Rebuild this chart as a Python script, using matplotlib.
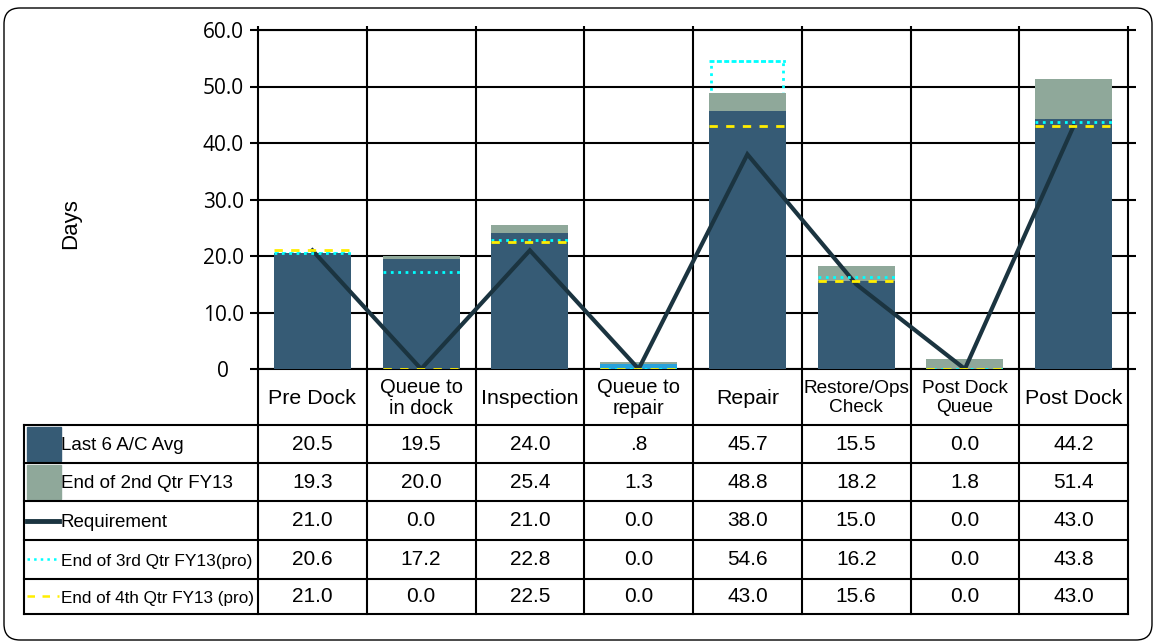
import matplotlib.pyplot as plt
import numpy as np
from matplotlib.lines import Line2D
from matplotlib.patches import Rectangle, FancyBboxPatch

plt.rcParams["font.family"] = ["Liberation Sans", "DejaVu Sans"]

categories = ["Pre Dock", "Queue to\nin dock", "Inspection", "Queue to\nrepair",
              "Repair", "Restore/Ops\nCheck", "Post Dock\nQueue", "Post Dock"]
last6 = [20.5, 19.5, 24.0, 0.8, 45.7, 15.5, 0.0, 44.2]
qtr2 = [19.3, 20.0, 25.4, 1.3, 48.8, 18.2, 1.8, 51.4]
requirement = [21.0, 0.0, 21.0, 0.0, 38.0, 15.0, 0.0, 43.0]
qtr3 = [20.6, 17.2, 22.8, 0.0, 54.6, 16.2, 0.0, 43.8]
qtr4 = [21.0, 0.0, 22.5, 0.0, 43.0, 15.6, 0.0, 43.0]
yticks = [0, 10, 20, 30, 40, 50, 60]
ytick_labels = ["0", "10.0", "20.0", "30.0", "40.0", "50.0", "60.0"]

DARK = "#365b75"
GREY = "#8fa89a"
LIGHT = "#29a3dc"
REQ = "#1b3440"
CYAN = "#00ffff"
YELLOW = "#ffee00"

W, H = 1157, 644
fig = plt.figure(figsize=(W / 100, H / 100), dpi=100)


def fx(x):
    return x / W


def fy(y):
    return 1 - y / H


# outer rounded frame (inches so the corners stay circular)
frame = FancyBboxPatch((4 / 100, 4 / 100), 1148 / 100, 632 / 100,
                       boxstyle="round,pad=0,rounding_size=0.16",
                       transform=fig.dpi_scale_trans, fill=False,
                       edgecolor="black", linewidth=1.0)
fig.add_artist(frame)

ax_l, ax_r, ax_t, ax_b = 258, 1128, 30, 369
ax = fig.add_axes([fx(ax_l), fy(ax_b), (ax_r - ax_l) / W, (ax_b - ax_t) / H])

n = len(categories)
x = np.arange(n)
bw = 0.71

# 3rd quarter projection drawn as a dotted outline behind the bars
ax.bar(x, qtr3, bw - 0.05, fill=False, edgecolor=CYAN, linestyle=":", linewidth=2, zorder=2)
ax.bar(x, qtr2, bw, color=GREY, zorder=3)
bar_colors = [LIGHT if 0 < v < 1 else DARK for v in last6]
ax.bar(x, last6, bw, color=bar_colors, zorder=4)
ax.plot(x, requirement, color=REQ, linewidth=3, zorder=5, solid_joinstyle="miter")
ax.hlines(qtr3, x - bw / 2, x + bw / 2, colors=CYAN, linestyles=":", linewidth=2, zorder=6)
ax.hlines(qtr4, x - bw / 2, x + bw / 2, colors=YELLOW, linestyles=(0, (3, 3)),
          linewidth=2, zorder=7)

ax.set_xlim(-0.5, n - 0.5)
ax.set_ylim(0, 60)
ax.set_yticks(yticks)
ax.set_yticklabels(ytick_labels, fontsize=15, family=["Open Sans", "DejaVu Sans"])
for lab in ax.get_yticklabels():
    lab.set_horizontalalignment("center")
ax.tick_params(axis="y", length=6, width=1.5, pad=19, right=True)
bounds = np.arange(-0.5, n, 1.0)
ax.set_xticks(bounds)
ax.set_xticklabels([])
ax.tick_params(axis="x", bottom=False, top=True, length=3, width=1.5)
for xb in bounds[1:-1]:
    ax.axvline(xb, color="black", linewidth=1.5, zorder=1)
ax.grid(axis="y", color="black", linewidth=1.5, zorder=1)
ax.set_axisbelow(True)
for s in ax.spines.values():
    s.set_linewidth(1.5)

fig.text(fx(71), fy(224), "Days", rotation=90, ha="center", va="center", fontsize=16)

# data table under the plot
col_w = (ax_r - ax_l) / n
col_edges = [ax_l + i * col_w for i in range(n + 1)]
row_edges = [425, 463, 501, 540, 579, 614]
tab_l = 24


def hline(y, x0, x1, lw=1.5):
    fig.add_artist(Line2D([fx(x0), fx(x1)], [fy(y), fy(y)], color="black", linewidth=lw))


def vline(xp, y0, y1, lw=1.5):
    fig.add_artist(Line2D([fx(xp), fx(xp)], [fy(y0), fy(y1)], color="black", linewidth=lw))


for ce in col_edges:
    vline(ce, ax_b, row_edges[-1])
vline(tab_l, row_edges[0], row_edges[-1])
hline(row_edges[0], tab_l, ax_r)
for re in row_edges[1:]:
    hline(re, tab_l, ax_r)

header_sizes = [15.4, 14.5, 15.4, 14.5, 15.4, 13.7, 13.7, 15.4]
for i, cat in enumerate(categories):
    cx = (col_edges[i] + col_edges[i + 1]) / 2
    cy = (ax_b + row_edges[0]) / 2 + 1
    fig.text(fx(cx), fy(cy), cat, ha="center", va="center",
             fontsize=header_sizes[i], linespacing=1.1)


def fmt(v):
    s = f"{v:.1f}"
    return s[1:] if 0 < v < 1 else s


rows = [
    ("Last 6 A/C Avg", last6, "patch", DARK, 13.5),
    ("End of 2nd Qtr FY13", qtr2, "patch", GREY, 13.5),
    ("Requirement", requirement, "solid", REQ, 13.5),
    ("End of 3rd Qtr FY13(pro)", qtr3, "dotted", CYAN, 12.4),
    ("End of 4th Qtr FY13 (pro)", qtr4, "dashed", YELLOW, 12.3),
]
for r, (label, vals, kind, color, size) in enumerate(rows):
    y0, y1 = row_edges[r], row_edges[r + 1]
    cy = (y0 + y1) / 2
    if kind == "patch":
        fig.add_artist(Rectangle((fx(27), fy(y1 - 2)), 34 / W, (y1 - y0 - 4) / H,
                                 transform=fig.transFigure, color=color))
    else:
        ls = {"solid": "-", "dotted": ":", "dashed": (0, (3, 3))}[kind]
        lw = {"solid": 3.5, "dotted": 1.8, "dashed": 1.8}[kind]
        yk = cy - 1 if kind != "solid" else cy
        fig.add_artist(Line2D([fx(27), fx(59)], [fy(yk), fy(yk)], color=color,
                              linestyle=ls, linewidth=lw))
    fig.text(fx(61), fy(cy + 2), label, ha="left", va="center", fontsize=size)
    for i, v in enumerate(vals):
        cx = (col_edges[i] + col_edges[i + 1]) / 2
        fig.text(fx(cx), fy(cy), fmt(v), ha="center", va="center", fontsize=15)

fig.savefig("out.png", dpi=100)
